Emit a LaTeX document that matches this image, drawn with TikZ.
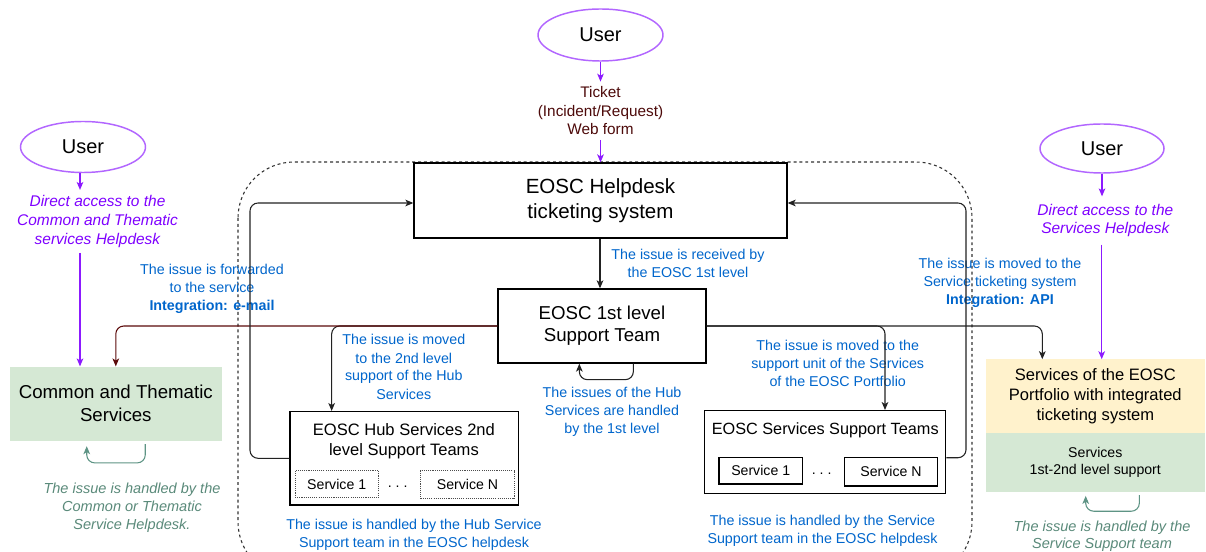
\documentclass[tikz,border=0pt]{standalone}
\usepackage{fontspec}
\setmainfont{Liberation Sans}
\usetikzlibrary{shapes.geometric,arrows.meta,calc}
\definecolor{cblue}{HTML}{0066CC}
\definecolor{cpurple}{HTML}{7F00FF}
\definecolor{cparrow}{HTML}{8C1AFF}
\definecolor{cpell}{HTML}{B266FF}
\definecolor{cbrown}{HTML}{4D0A0A}
\definecolor{cbrline}{HTML}{5C0A0A}
\definecolor{cgtext}{HTML}{5A8A7A}
\definecolor{cgline}{HTML}{5E9485}
\definecolor{cgreen}{HTML}{D5E8D4}
\definecolor{cyellow}{HTML}{FFF2CC}
\definecolor{cline}{HTML}{222222}
\newcommand{\fsz}[2]{\fontsize{#1pt}{#2pt}\selectfont}
\begin{document}
\begin{tikzpicture}[x=0.75pt,y=-0.75pt,
  box/.style={draw=black, line width=1pt, fill=white, inner sep=0pt, align=center},
  fillbox/.style={inner sep=0pt, align=center},
  lbl/.style={inner sep=0pt, align=center},
  bluelbl/.style={lbl, text=cblue, font=\fsz{10.7}{13.5}},
  plbl/.style={lbl, text=cpurple, font=\fsz{11.6}{14}\itshape},
  glbl/.style={lbl, text=cgtext, font=\fsz{10.9}{13.25}\itshape},
  ell/.style={ellipse, draw=cpell, line width=1.1pt, fill=white, inner sep=0pt, font=\fsz{15}{18}},
  dotbox/.style={draw=black!70, dash pattern=on 0.8pt off 0.8pt, line width=0.8pt, inner sep=0pt, font=\fsz{10.6}{12}},
  sbox/.style={draw=black, line width=1pt, inner sep=0pt, font=\fsz{10.6}{12}},
  tip/.style={-{Stealth[length=6pt,width=5pt,inset=1.6pt]}},
  arr/.style={tip, draw=cline, line width=0.8pt},
  parr/.style={tip, draw=cparrow, line width=0.8pt},
  brarr/.style={tip, draw=cbrline, line width=0.8pt},
  garr/.style={tip, draw=cgline, line width=0.8pt}]
\useasboundingbox (0,0) rectangle (1206,552);
\fill[white] (0,0) rectangle (1206,552);
\begin{scope}
\clip (0,0) rectangle (1206,552);
\draw[draw=black!80, line width=0.8pt, dash pattern=on 2.2pt off 2.2pt, rounded corners=42pt] (238,162) rectangle (972,578);
\end{scope}

% nodes
\node[ell, minimum width=93.75pt, minimum height=39pt] (userT) at (600.5,35) {User};
\node[ell, minimum width=93.75pt, minimum height=38.25pt] (userL) at (83,147) {User};
\node[ell, minimum width=93pt, minimum height=36.75pt] (userR) at (1102,148.5) {User};

\node[lbl, text=cbrown, font=\fsz{11.5}{13.9}, inner ysep=3.5pt] (ticket) at (600.5,110.7) {Ticket\\(Incident/Request)\\Web form};

\node[box, minimum width=279.75pt, minimum height=56.25pt, font=\fsz{15.4}{18.75}] (helpdesk) at (600.5,200.5) {EOSC Helpdesk\\ticketing system};
\node[box, minimum width=156pt, minimum height=55.5pt, font=\fsz{14}{16.5}] (first) at (602,326) {EOSC 1st level\\Support Team};

\node[fillbox, fill=cgreen, minimum width=158.8pt, minimum height=55.7pt, font=\fsz{14}{17.25}] (common) at (115.8,403.8) {Common and Thematic\\Services};

\node[box, minimum width=171.2pt, minimum height=70pt] (hub) at (404.2,458.3) {};
\node[lbl, font=\fsz{12.4}{14.5}] (hubT) at (403.9,441.3) {EOSC Hub Services 2nd\\level Support Teams};
\node[dotbox, minimum width=62.5pt, minimum height=20.25pt] (hubS1) at (336.7,484.2) {Service 1};
\node[dotbox, minimum width=70.2pt, minimum height=21.2pt] (hubSN) at (467.5,484.8) {Service N};
\node[lbl, font=\fsz{10.6}{12}] (hubDots) at (397.7,487) {.~.~.};

\node[box, minimum width=181pt, minimum height=62pt] (svc) at (825,452) {};
\node[lbl, font=\fsz{12.2}{14.5}] (svcT) at (825.2,430.7) {EOSC Services Support Teams};
\node[sbox, minimum width=62.5pt, minimum height=20pt] (svcS1) at (760.7,470.7) {Service 1};
\node[sbox, minimum width=70pt, minimum height=21.5pt] (svcSN) at (891,471.7) {Service N};
\node[lbl, font=\fsz{10.6}{12}] (svcDots) at (821.7,474) {.~.~.};

\node[fillbox, fill=cyellow, minimum width=164.5pt, minimum height=55.1pt, font=\fsz{12.4}{15.2}] (yel) at (1095.3,396.2) {Services of the EOSC\\Portfolio with integrated\\ticketing system};
\node[fillbox, fill=cgreen, minimum width=164.5pt, minimum height=44pt, font=\fsz{10.6}{13.3}] (grn) at (1095.3,462.3) {Services\\1st-2nd level support};

% labels
\node[plbl, inner ysep=4pt] (pL) at (97.5,221.4) {Direct access to the\\Common and Thematic\\services Helpdesk};
\node[plbl, inner ysep=5.5pt] (pR) at (1105.3,220.5) {Direct access to the\\Services Helpdesk};
\node[bluelbl] (recv) at (688,263.9) {The issue is received by\\the EOSC 1st level};
\node[bluelbl] (fwd) at (212,289) {The issue is forwarded\\to the service\\\textbf{Integration: e-mail}};
\node[bluelbl] (api) at (1000,283.3) {The issue is moved to the\\Service ticketing system\\\textbf{Integration: API}};
\node[bluelbl] (movHub) at (403.8,366.9) {The issue is moved\\to the 2nd level\\support of the Hub\\Services};
\node[bluelbl] (firstH) at (612,411.5) {The issues of the Hub\\Services are handled\\by the 1st level};
\node[bluelbl] (movSvc) at (837.7,363.5) {The issue is moved to the\\support unit of the Services\\of the EOSC Portfolio};
\node[bluelbl] (hubH) at (414,534.5) {The issue is handled by the Hub Service\\Support team in the EOSC helpdesk};
\node[bluelbl] (svcH) at (822.5,531.2) {The issue is handled by the Service\\Support team in the EOSC helpdesk};
\node[glbl] (gL) at (132,507.7) {The issue is handled by the\\Common or Thematic\\Service Helpdesk.};
\node[glbl] (gR) at (1102,536.2) {The issue is handled by the\\Service Support team};

% purple connectors
\draw[parr] (userT) -- (ticket);
\draw[parr] (ticket) -- (helpdesk);
\draw[parr] ([xshift=-2.25pt]userL.south) -- (pL.north -| 80,0);
\draw[parr] (pL.south -| 80,0) -- (common.north -| 80,0);
\draw[parr] (userR.south) -- (userR.south |- pR.north);
\draw[parr] (pR.south -| 1101.7,0) -- (yel.north -| 1101.7,0);

% black connectors
\draw[arr] (helpdesk.south -| 600,0) -- (first.north -| 600,0);
\draw[arr, rounded corners=6pt] (first.west) -| ([xshift=-54.4pt]hub.north);
\draw[arr, rounded corners=6pt] (first.east) -| ([xshift=45pt]svc.north);
\draw[arr, rounded corners=6pt] (first.east) -| ([xshift=-39.75pt]yel.north);
\draw[brarr, rounded corners=6pt] (first.west) -| (common.north);
\draw[arr, rounded corners=6pt] ([xshift=23.5pt]first.south) -- ++(0,16) -| ([xshift=-17pt]first.south);
\draw[arr, rounded corners=6pt] (hub.west) -| (250,203) -- ([yshift=-1.875pt]helpdesk.west);
\draw[arr, rounded corners=6pt] ([yshift=-4.3pt]svc.east) -| (966,203) -- ([yshift=-1.875pt]helpdesk.east);

% green loops
\draw[garr, rounded corners=6pt] ([xshift=22.1pt,yshift=-2.25pt]common.south) -- ++(0,18.7) -| ([xshift=-21.8pt,yshift=-3.75pt]common.south);
\draw[garr, rounded corners=6pt] ([xshift=33pt,yshift=-2.5pt]grn.south) -- ++(0,16) -| ([xshift=-7.2pt,yshift=-3pt]grn.south);
\end{tikzpicture}
\end{document}
